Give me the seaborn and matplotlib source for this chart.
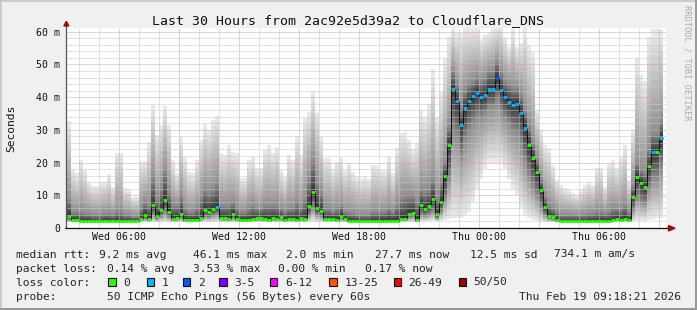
import numpy as np
import pandas as pd
import matplotlib
matplotlib.use("Agg")
import matplotlib.pyplot as plt
import seaborn as sns
from matplotlib.lines import Line2D
from matplotlib.patches import Polygon, Rectangle
from matplotlib.ticker import FixedLocator, FixedFormatter, NullFormatter

# ---------------- data ----------------
title = "Last 30 Hours from 2ac92e5d39a2 to Cloudflare_DNS"
graph_start = "2026-02-18 03:18:21"
graph_end = "2026-02-19 09:18:21"
first_bin = "2026-02-18 03:24:00"
bin_minutes = 12

median_ms = [
    3.7, 2.4, 2.4, 2.0, 2.0, 2.0, 2.0, 2.0, 2.0, 2.0,
    2.0, 2.0, 2.0, 2.0, 2.0, 2.0, 2.0, 2.0, 2.8, 4.0,
    2.8, 7.0, 3.7, 5.5, 8.6, 5.0, 2.9, 3.1, 4.3, 2.4,
    2.4, 2.4, 2.4, 3.1, 5.5, 4.8, 5.8, 6.5, 3.1, 3.1,
    2.8, 4.3, 2.8, 2.4, 2.4, 2.4, 2.8, 3.1, 3.1, 2.8,
    2.4, 3.1, 2.8, 3.4, 2.4, 2.8, 2.7, 2.5, 3.2, 2.7,
    6.8, 11.1, 6.2, 5.2, 2.8, 2.8, 2.8, 2.5, 3.8, 2.8,
    2.1, 2.1, 2.1, 2.0, 2.0, 2.0, 2.2, 2.0, 2.2, 2.2,
    2.2, 2.2, 2.2, 2.9, 2.9, 4.4, 4.7, 2.4, 7.0, 5.9,
    6.7, 9.0, 4.3, 8.0, 15.9, 25.5, 42.6, 38.9, 31.6, 36.7,
    38.9, 40.2, 41.4, 39.9, 40.5, 42.6, 42.6, 45.9, 42.2, 39.9,
    38.6, 37.7, 38.0, 35.3, 30.7, 25.4, 21.3, 17.2, 11.6, 6.5,
    3.7, 3.3, 2.4, 2.0, 2.0, 2.0, 2.0, 2.0, 2.0, 2.0,
    2.0, 2.0, 2.0, 2.0, 2.0, 2.0, 2.4, 2.9, 2.4, 2.9,
    2.4, 9.6, 15.7, 13.7, 12.6, 19.0, 23.2, 23.2, 27.5,
]
# index into loss_legend_colors (0 -> 0 lost, 1 -> 1 lost, 2 -> 2 lost)
loss_class = [
    0, 0, 0, 0, 0, 0, 0, 0, 0, 0,
    0, 0, 0, 0, 0, 0, 0, 0, 0, 0,
    0, 0, 0, 0, 0, 0, 0, 0, 0, 0,
    0, 0, 0, 0, 0, 0, 0, 1, 0, 0,
    0, 0, 0, 0, 0, 0, 0, 0, 0, 0,
    0, 0, 0, 0, 0, 0, 0, 0, 0, 0,
    0, 0, 0, 0, 0, 0, 0, 0, 0, 0,
    0, 0, 0, 0, 0, 0, 0, 0, 0, 0,
    0, 0, 0, 0, 0, 0, 0, 0, 0, 0,
    0, 0, 0, 0, 0, 0, 1, 1, 1, 1,
    1, 1, 1, 1, 1, 1, 1, 2, 1, 1,
    1, 1, 1, 1, 1, 0, 0, 0, 0, 0,
    0, 0, 0, 0, 0, 0, 0, 0, 0, 0,
    0, 0, 0, 0, 0, 0, 0, 0, 0, 0,
    0, 0, 0, 0, 0, 0, 1, 0, 1,
]
smoke_min_ms = [
    1.7, 1.7, 1.7, 1.7, 1.7, 1.7, 1.7, 1.7, 1.7, 1.7,
    1.7, 1.7, 1.7, 1.7, 1.7, 1.7, 1.7, 1.7, 1.7, 1.8,
    1.7, 1.8, 1.7, 1.8, 1.8, 1.8, 1.7, 1.7, 1.8, 1.7,
    1.7, 1.7, 1.7, 1.7, 1.8, 1.8, 1.8, 1.8, 1.7, 1.7,
    1.7, 1.7, 1.7, 1.7, 1.7, 1.7, 1.7, 1.7, 1.7, 1.7,
    1.7, 1.7, 1.7, 1.7, 1.7, 1.7, 1.7, 1.7, 1.7, 1.7,
    1.8, 1.9, 1.8, 1.8, 1.7, 1.7, 1.7, 1.7, 1.7, 1.7,
    1.7, 1.7, 1.7, 1.7, 1.7, 1.7, 1.7, 1.7, 1.7, 1.7,
    1.7, 1.7, 1.7, 1.7, 1.7, 1.8, 1.8, 1.7, 2.0, 2.0,
    2.0, 2.2, 2.0, 2.2, 2.5, 2.8, 3.0, 3.0, 3.0, 4.0,
    5.0, 8.0, 12.0, 15.0, 18.0, 20.0, 20.0, 20.0, 20.0, 18.0,
    15.0, 12.0, 10.0, 6.0, 4.0, 3.0, 2.5, 2.0, 1.8, 1.7,
    1.7, 1.7, 1.7, 1.7, 1.7, 1.7, 1.7, 1.7, 1.7, 1.7,
    1.7, 1.7, 1.7, 1.7, 1.7, 1.7, 1.7, 1.7, 1.7, 1.7,
    1.7, 2.0, 2.2, 2.2, 2.2, 2.5, 2.5, 3.0, 3.0,
]
smoke_q25_ms = [
    2.5, 2.1, 2.1, 1.9, 1.9, 1.9, 1.9, 1.9, 1.9, 1.9,
    1.9, 1.9, 1.9, 1.9, 1.9, 1.9, 1.9, 1.9, 2.3, 2.8,
    2.3, 4.0, 2.8, 3.5, 4.5, 3.3, 2.4, 2.5, 3.0, 2.1,
    2.1, 2.1, 2.1, 2.5, 3.5, 3.3, 3.8, 4.2, 2.5, 2.5,
    2.3, 3.0, 2.3, 2.1, 2.1, 2.1, 2.3, 2.5, 2.5, 2.3,
    2.1, 2.5, 2.3, 2.6, 2.1, 2.3, 2.2, 2.1, 2.5, 2.2,
    4.0, 6.0, 4.0, 3.5, 2.3, 2.3, 2.3, 2.1, 2.8, 2.3,
    1.9, 1.9, 1.9, 1.9, 1.9, 1.9, 2.0, 1.9, 2.0, 2.0,
    2.0, 2.0, 2.0, 2.4, 2.4, 3.2, 3.4, 2.1, 4.0, 3.8,
    4.2, 5.0, 3.0, 5.0, 9.0, 15.0, 30.0, 28.0, 22.0, 27.0,
    30.0, 32.0, 34.0, 34.0, 35.0, 37.0, 37.0, 39.0, 36.0, 34.0,
    32.0, 30.0, 29.0, 26.0, 21.0, 16.0, 13.0, 10.0, 6.5, 4.0,
    2.8, 2.6, 2.1, 1.9, 1.9, 1.9, 1.9, 1.9, 1.9, 1.9,
    1.9, 1.9, 1.9, 1.9, 1.9, 1.9, 2.1, 2.4, 2.1, 2.4,
    2.1, 5.5, 9.0, 8.0, 7.5, 12.0, 15.0, 15.0, 18.0,
]
smoke_q75_ms = [
    9, 5, 5, 5, 4.5, 4.5, 4, 4, 4, 4.5,
    4.5, 4, 5, 5, 4, 4, 3.5, 3.5, 6, 8,
    7, 16, 9, 12, 18, 11, 7, 7, 10, 6,
    5, 5, 6, 9, 12, 11, 12, 14, 7, 7,
    7, 8, 6, 5, 5, 6, 7, 6, 6, 7,
    7, 7, 7, 6, 5, 6, 6, 8, 6, 9,
    15, 21, 14, 11, 6, 6, 5, 6, 7, 5,
    5, 4.5, 4, 4, 4, 4, 5, 5, 5, 5,
    6, 5, 7, 9, 10, 10, 10, 8, 12, 11,
    12, 15, 9, 14, 20, 31, 48, 44, 37, 42,
    44, 45, 46, 45, 46, 48, 48, 51, 48, 45,
    44, 43, 43, 41, 36, 31, 26, 21, 15, 9.5,
    7, 6, 5, 4, 4, 4, 4, 4, 4, 4,
    4.5, 4.5, 5, 5, 4.5, 5, 6, 6, 6, 7,
    5, 13, 20, 18, 17, 24, 29, 29, 33,
]
smoke_max_ms = [
    32.7, 18.0, 16.7, 20.8, 17.7, 14.2, 12.8, 12.8, 14.0, 14.2,
    16.4, 12.6, 23.0, 22.9, 12.1, 11.6, 9.6, 9.6, 20.5, 20.5,
    26.4, 37.6, 28.4, 31.5, 37.3, 31.5, 20.8, 16.7, 27.9, 21.8,
    17.2, 16.7, 20.8, 26.9, 31.8, 30.0, 33.0, 34.3, 23.0, 22.3,
    25.4, 23.3, 22.9, 15.2, 15.2, 20.8, 21.8, 18.3, 18.3, 23.9,
    25.4, 22.9, 24.9, 17.7, 15.7, 22.3, 20.8, 28.1, 22.3, 33.5,
    35.5, 42.0, 35.3, 27.9, 21.4, 21.4, 17.9, 20.3, 21.4, 17.7,
    20.0, 17.2, 15.7, 15.0, 15.7, 15.0, 19.3, 19.3, 17.7, 17.7,
    21.8, 16.7, 24.4, 29.0, 29.4, 27.0, 24.0, 26.0, 36.0, 34.0,
    37.9, 48.6, 34.0, 41.7, 51.9, 58.5, 61.2, 59.5, 59.5, 61.2,
    61.2, 61.2, 61.2, 57.5, 59.0, 59.7, 61.0, 61.2, 61.0, 58.5,
    55.4, 61.0, 55.4, 56.5, 61.2, 56.0, 53.9, 36.0, 30.0, 25.4,
    24.4, 19.3, 14.7, 13.1, 12.1, 11.6, 10.6, 10.1, 11.6, 13.1,
    14.2, 13.1, 18.3, 18.3, 12.6, 19.8, 20.8, 18.3, 21.8, 25.4,
    14.7, 30.0, 51.9, 46.8, 45.0, 58.5, 60.8, 60.8, 60.5,
]

y_ticks = [0, 10, 20, 30, 40, 50, 60]
y_tick_labels = ["0", "10 m", "20 m", "30 m", "40 m", "50 m", "60 m"]
x_major_times = ["2026-02-18 06:00", "2026-02-18 09:00", "2026-02-18 12:00",
                 "2026-02-18 15:00", "2026-02-18 18:00", "2026-02-18 21:00",
                 "2026-02-19 00:00", "2026-02-19 03:00", "2026-02-19 06:00",
                 "2026-02-19 09:00"]
x_major_labels = ["Wed 06:00", "", "Wed 12:00", "", "Wed 18:00", "",
                  "Thu 00:00", "", "Thu 06:00", ""]
loss_legend_labels = ["0", "1", "2", "3-5", "6-12", "13-25", "26-49", "50/50"]
loss_legend_colors = ["#26ff00", "#00b8ff", "#0059ff", "#7e00ff",
                      "#ff00ff", "#ff5500", "#ff0000", "#a10000"]
rtt_stats = ["9.2 ms avg", "46.1 ms max", "2.0 ms min", "27.7 ms now",
             "12.5 ms sd", "734.1 m am/s"]
loss_stats = ["0.14 % avg", "3.53 % max", "0.00 % min", "0.17 % now"]
probe_text = "50 ICMP Echo Pings (56 Bytes) every 60s"
stamp_text = "Thu Feb 19 09:18:21 2026"

# ---------------- style ----------------
sns.set_theme(style="white")
plt.rcParams["font.family"] = ["DejaVu Sans Mono", "DejaVu Sans"]

W, H = 697, 310
BG = "#f0f0f0"
GRID_MINOR = "#c6c6c6"
GRID_MAJOR = "#e39c9c"
ARROW_COL = "#990f0f"

fig = plt.figure(figsize=(W / 100, H / 100), dpi=100, facecolor=BG)
X0, X1, Y0, Y1 = 65.5, 665.5, 27.7, 228.0  # axes box in pixels (top-left origin)
ax = fig.add_axes([X0 / W, 1 - Y1 / H, (X1 - X0) / W, (Y1 - Y0) / H])
ax.set_facecolor("white")

t0 = pd.Timestamp(graph_start)
hours = lambda ts: (pd.to_datetime(ts) - t0) / pd.Timedelta(hours=1)

n = len(median_ms)
bin_starts = pd.date_range(first_bin, periods=n, freq=f"{bin_minutes}min")
xs = np.asarray(hours(bin_starts), dtype=float)
step_h = bin_minutes / 60.0
x_edges = np.append(xs, xs[-1] + step_h)

med = np.asarray(median_ms, float)
qs = np.vstack([smoke_min_ms, smoke_q25_ms, median_ms, smoke_q75_ms,
                smoke_max_ms]).astype(float)
qs = np.maximum.accumulate(qs, axis=0)
knots = np.array([0.0, 0.25, 0.5, 0.75, 1.0])


def quant(r):
    k = min(np.searchsorted(knots, r, side="right") - 1, len(knots) - 2)
    w = (r - knots[k]) / (knots[k + 1] - knots[k])
    return qs[k] + w * (qs[k + 1] - qs[k])


# smoke: 50 pings -> 25 symmetric rank pairs, outer light, inner dark
pings = 50
half = pings // 2
for ii in range(1, half + 1):
    lo = quant((ii - 1) / (pings - 1))
    hi = quant((pings - ii) / (pings - 1))
    c = (int(190 / half * (half - ii)) + 50) / 255
    ax.fill_between(x_edges, np.append(lo, lo[-1]), np.append(hi, hi[-1]),
                    step="post", color=(c, c, c), lw=0, zorder=1)

# median: thin dark step line + loss-coloured segments
df = pd.DataFrame({"t": x_edges, "ms": np.append(med, med[-1])})
sns.lineplot(data=df, x="t", y="ms", ax=ax, color="#151515", linewidth=0.75,
             drawstyle="steps-post", estimator=None, sort=False, zorder=4)
seg_cols = [loss_legend_colors[k] for k in loss_class]
ax.hlines(med, xs, xs + step_h, colors=seg_cols, lw=2.0, zorder=5,
          capstyle="butt")

ax.set_xlim(0, 30)
ax.set_ylim(0, (Y1 - Y0) / ((Y1 - 31.7) / 60.0))
ax.set_xlabel("")
ax.set_ylabel("")

# grid / ticks
major_x = [hours(t) for t in x_major_times]
minor_times = pd.date_range("2026-02-18 04:00", "2026-02-19 09:00", freq="h")
minor_x = [hours(t) for t in minor_times if t not in pd.to_datetime(x_major_times)]
ax.xaxis.set_major_locator(FixedLocator(major_x))
ax.xaxis.set_major_formatter(FixedFormatter(x_major_labels))
ax.xaxis.set_minor_locator(FixedLocator(minor_x))
ax.xaxis.set_minor_formatter(NullFormatter())
ax.yaxis.set_major_locator(FixedLocator(y_ticks))
ax.yaxis.set_major_formatter(FixedFormatter(y_tick_labels))
ax.yaxis.set_minor_locator(FixedLocator([v for v in range(2, 61, 2) if v % 10]))
ax.yaxis.set_minor_formatter(NullFormatter())
ax.set_axisbelow(False)
dot = (0, (1, 1))
ax.grid(which="minor", color=GRID_MINOR, lw=0.72, ls=dot)
ax.grid(which="major", color=GRID_MAJOR, lw=0.72, ls=dot)
ax.tick_params(axis="both", which="both", direction="out", length=2, width=0.72,
               labelsize=7.1, labelcolor="#111111")
ax.tick_params(axis="both", which="major", color=GRID_MAJOR)
ax.tick_params(axis="both", which="minor", color=GRID_MINOR)
ax.tick_params(axis="y", pad=2)
ax.tick_params(axis="x", pad=1.2)
for s in ax.spines.values():
    s.set_visible(False)


def fx(px):
    return px / W


def fy(py):
    return 1 - py / H


# axis lines and arrows
fig.add_artist(Line2D([fx(66.3), fx(66.3)], [fy(228), fy(25.5)], color="#555555",
                      lw=0.9, transform=fig.transFigure, zorder=6))
fig.add_artist(Line2D([fx(65), fx(669)], [fy(228.2), fy(228.2)], color="#111111",
                      lw=0.9, transform=fig.transFigure, zorder=6))
fig.add_artist(Polygon([[fx(63.8), fy(26)], [fx(68.8), fy(26)], [fx(66.3), fy(21.3)]],
                       closed=True, color=ARROW_COL, transform=fig.transFigure, zorder=7))
fig.add_artist(Polygon([[fx(668.5), fy(225.5)], [fx(668.5), fy(231)], [fx(675), fy(228.2)]],
                       closed=True, color=ARROW_COL, transform=fig.transFigure, zorder=7))

# frame shading
fig.add_artist(Rectangle((0, fy(1.5)), 1, 1.5 / H, color="#cbcbcb", transform=fig.transFigure, lw=0))
fig.add_artist(Rectangle((0, 0), 1.5 / W, 1, color="#cbcbcb", transform=fig.transFigure, lw=0))
fig.add_artist(Rectangle((fx(695), 0), 2 / W, 1, color="#999999", transform=fig.transFigure, lw=0))
fig.add_artist(Rectangle((0, 0), 1, 2 / H, color="#999999", transform=fig.transFigure, lw=0))

# texts
fig.text(fx(347.5), fy(24), title, ha="center", va="baseline", size=9.5, color="#111111")
fig.text(fx(11), fy(128), "Seconds", rotation=90, ha="center", va="center",
         size=8.1, color="#111111")
fig.text(fx(686.5), fy(5), "RRDTOOL / TOBI OETIKER", rotation=270, ha="center",
         va="top", size=6.2, color="#ababab")

LS = 8.1
rows = [257.5, 271.5, 285.5, 299.5]
fig.text(fx(16), fy(rows[0]), "median rtt:", size=LS, va="baseline")
for s, x in zip(rtt_stats, [99, 192.7, 286, 375, 470, 554]):
    fig.text(fx(x), fy(rows[0]), s, size=LS, va="baseline")
fig.text(fx(16), fy(rows[1]), "packet loss:", size=LS, va="baseline")
for s, x in zip(loss_stats, [107.3, 192.7, 278.3, 365]):
    fig.text(fx(x), fy(rows[1]), s, size=LS, va="baseline")
fig.text(fx(16), fy(rows[2]), "loss color:", size=LS, va="baseline")
box_x = [108.3, 146.7, 182.7, 219.3, 270, 329.3, 393.5, 458.5]
for lab, col, bx in zip(loss_legend_labels, loss_legend_colors, box_x):
    fig.add_artist(Rectangle((fx(bx), fy(286)), 7.3 / W, 8 / H, facecolor=col,
                             edgecolor="#111111", lw=0.8, transform=fig.transFigure))
    fig.text(fx(bx + 15), fy(rows[2]), lab, size=LS, va="baseline")
fig.text(fx(16), fy(rows[3]), "probe:", size=LS, va="baseline")
fig.text(fx(107.3), fy(rows[3]), probe_text, size=LS, va="baseline")
fig.text(fx(681), fy(rows[3]), stamp_text, size=LS, va="baseline", ha="right")

fig.savefig("out.png", dpi=100, facecolor=BG)
